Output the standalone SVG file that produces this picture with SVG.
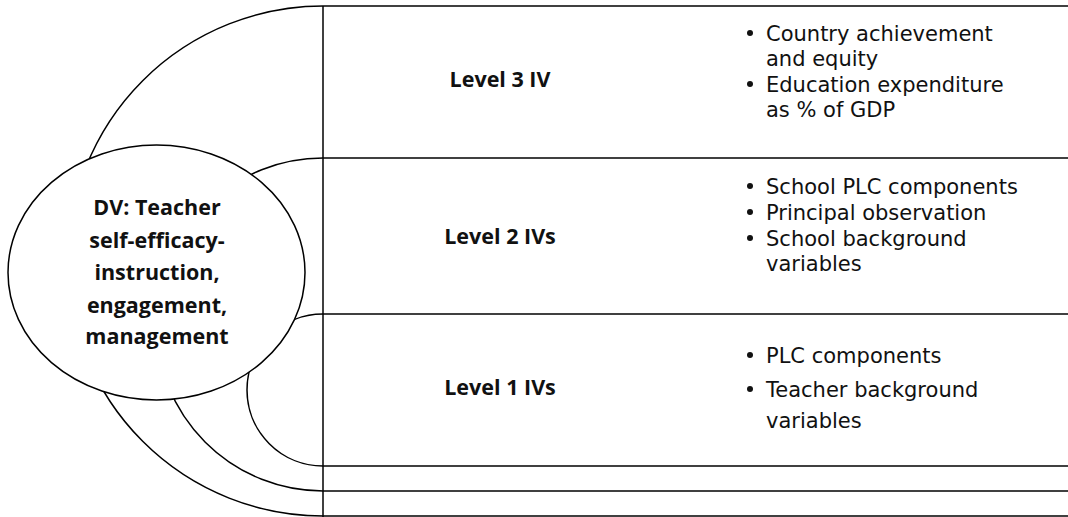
<svg xmlns="http://www.w3.org/2000/svg" width="1068" height="517" viewBox="0 0 1068 517">
<style>
.ln{stroke:#000;stroke-width:1.5;fill:none}
.lbl{font-family:"Open Sans","Liberation Sans",sans-serif;font-size:21.5px;font-weight:bold;fill:#111;text-anchor:middle}
.dv{font-family:"Open Sans","Liberation Sans",sans-serif;font-size:21.5px;font-weight:bold;fill:#111;text-anchor:middle}
.bt{font-family:"DejaVu Sans","Liberation Sans",sans-serif;font-size:21px;fill:#111}
.bu{fill:#111}
</style>
<rect width="1068" height="517" fill="#fff"/>
<g id="frame" class="ln">
<line x1="323" y1="6" x2="1068" y2="6"/>
<line x1="323" y1="158" x2="1068" y2="158"/>
<line x1="323" y1="314" x2="1068" y2="314"/>
<line x1="323" y1="466" x2="1068" y2="466"/>
<line x1="323" y1="491" x2="1068" y2="491"/>
<line x1="323" y1="516" x2="1068" y2="516"/>
<line x1="323" y1="6" x2="323" y2="517"/>
</g>
<g id="connectors" class="ln">
<path d="M323 6 A255 255 0 0 0 68 261 A255 255 0 0 0 323 516"/>
<path d="M323 158 A166.5 166.5 0 0 0 156.5 324.5 A166.5 166.5 0 0 0 323 491"/>
<path d="M323 314 A76 76 0 0 0 247 390 A76 76 0 0 0 323 466"/>
</g>
<g id="node-dv">
<ellipse cx="156.5" cy="272.5" rx="148.5" ry="127.5" fill="#fff" stroke="#000" stroke-width="1.5"/>
<text class="dv"><tspan x="157" y="215">DV: Teacher</tspan><tspan x="157" y="248">self-efficacy-</tspan><tspan x="157" y="280">instruction,</tspan><tspan x="157" y="313">engagement,</tspan><tspan x="157" y="344">management</tspan></text>
</g>
<g id="node-level3">
<text class="lbl" x="500" y="87">Level 3 IV</text>
<circle class="bu" cx="750" cy="33" r="3"/>
<circle class="bu" cx="750" cy="84" r="3"/>
<text class="bt"><tspan x="766" y="41">Country achievement</tspan><tspan x="766" y="66">and equity</tspan><tspan x="766" y="92">Education expenditure</tspan><tspan x="766" y="117">as % of GDP</tspan></text>
</g>
<g id="node-level2">
<text class="lbl" x="500" y="244">Level 2 IVs</text>
<circle class="bu" cx="750" cy="186" r="3"/>
<circle class="bu" cx="750" cy="212" r="3"/>
<circle class="bu" cx="750" cy="238" r="3"/>
<text class="bt"><tspan x="766" y="194">School PLC components</tspan><tspan x="766" y="220">Principal observation</tspan><tspan x="766" y="246">School background</tspan><tspan x="766" y="271">variables</tspan></text>
</g>
<g id="node-level1">
<text class="lbl" x="500" y="395">Level 1 IVs</text>
<circle class="bu" cx="750" cy="355" r="3"/>
<circle class="bu" cx="750" cy="389" r="3"/>
<text class="bt"><tspan x="766" y="363">PLC components</tspan><tspan x="766" y="397">Teacher background</tspan><tspan x="766" y="428">variables</tspan></text>
</g>
</svg>
